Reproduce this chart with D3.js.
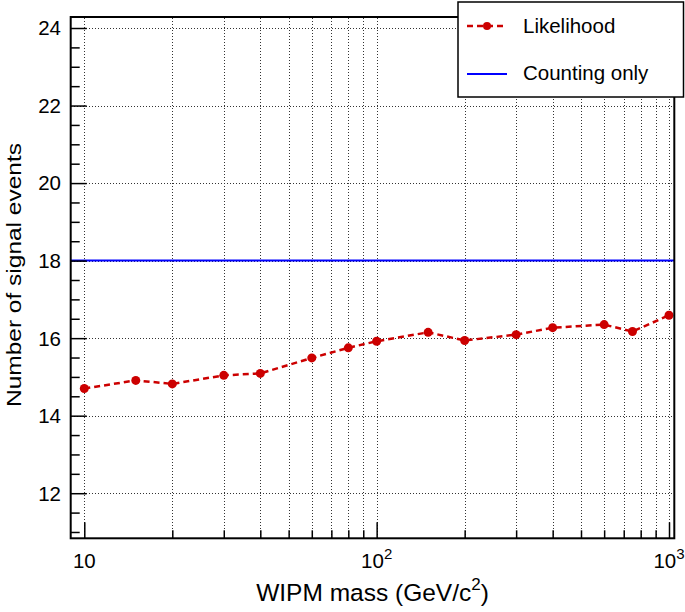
<!DOCTYPE html>
<html>
<head>
<meta charset="utf-8">
<script src="https://cdn.jsdelivr.net/npm/d3@7"></script>
<style>
  html, body { margin: 0; padding: 0; background: #fff; }
  svg { display: block; font-family: "Liberation Sans", Arial, Helvetica, sans-serif; }
</style>
</head>
<body>
<svg id="chart" width="685" height="612"></svg>
<script>
// ---- data ----
const masses = [10, 15, 20, 30, 40, 60, 80, 100, 150, 200, 300, 400, 600, 750, 1000];
const likelihood = [14.70, 14.91, 14.82, 15.04, 15.09, 15.49, 15.75, 15.92, 16.15, 15.94, 16.09, 16.27, 16.35, 16.17, 16.59];
const countingOnly = 18;
const xMajorTicks = [10, 100, 1000];
const xMinorTicks = [20, 30, 40, 50, 60, 70, 80, 90, 200, 300, 400, 500, 600, 700, 800, 900];
const xTickLabels = [["10", ""], ["10", "2"], ["10", "3"]];
const yMajorTicks = [12, 14, 16, 18, 20, 22, 24];
const yMinorTicks = [11, 11.5, 12.5, 13, 13.5, 14.5, 15, 15.5, 16.5, 17, 17.5, 18.5, 19, 19.5, 20.5, 21, 21.5, 22.5, 23, 23.5];
const seriesNames = ["Likelihood", "Counting only"];
const xTitle = "WIPM mass (GeV/c";
const yTitle = "Number of signal events";

// ---- layout ----
const L = 70.7, R = 674.3, T = 17, B = 538.3;
const svg = d3.select("#chart");
const x = d3.scaleLog().domain([8.985, 1042.6]).range([L, R]);
const y = d3.scaleLinear().domain([10.837, 24.284]).range([B, T]);
const red = "#cc0000", blue = "#0000ff";

// grid
const grid = svg.append("g").attr("class", "grid").attr("shape-rendering", "crispEdges");
grid.append("g").attr("transform", `translate(0,${B})`)
  .call(d3.axisBottom(x).tickValues(xMajorTicks.concat(xMinorTicks)).tickSize(-(B - T)).tickFormat(""))
  .call(g => g.select(".domain").remove())
  .call(g => g.selectAll("line").attr("stroke", "#333").attr("stroke-width", 1).attr("stroke-dasharray", "1,2"));
grid.append("g").attr("transform", `translate(${L},0)`)
  .call(d3.axisLeft(y).tickValues(yMajorTicks).tickSize(-(R - L)).tickFormat(""))
  .call(g => g.select(".domain").remove())
  .call(g => g.selectAll("line").attr("stroke", "#333").attr("stroke-width", 1).attr("stroke-dasharray", "1,2"));

// counting-only line
svg.append("line")
  .attr("x1", L).attr("x2", R)
  .attr("y1", y(countingOnly)).attr("y2", y(countingOnly))
  .attr("stroke", blue).attr("stroke-width", 2);

// likelihood series
const pts = masses.map((m, i) => [m, likelihood[i]]);
svg.append("path")
  .datum(pts)
  .attr("fill", "none")
  .attr("stroke", red)
  .attr("stroke-width", 2.5)
  .attr("stroke-dasharray", "6,4")
  .attr("d", d3.line().x(d => x(d[0])).y(d => y(d[1])));
svg.append("g").selectAll("circle").data(pts).join("circle")
  .attr("cx", d => x(d[0])).attr("cy", d => y(d[1]))
  .attr("r", 4.5).attr("fill", red);

// axes ticks (inward)
const ax = svg.append("g");
ax.append("g").attr("transform", `translate(0,${B})`)
  .call(d3.axisBottom(x).tickValues(xMajorTicks).tickSize(-16).tickFormat(""));
ax.append("g").attr("transform", `translate(0,${B})`)
  .call(d3.axisBottom(x).tickValues(xMinorTicks).tickSize(-8).tickFormat(""));
ax.append("g").attr("transform", `translate(${L},0)`)
  .call(d3.axisLeft(y).tickValues(yMajorTicks).tickSize(-16).tickFormat(""));
ax.append("g").attr("transform", `translate(${L},0)`)
  .call(d3.axisLeft(y).tickValues(yMinorTicks).tickSize(-9).tickFormat(""));
ax.selectAll(".domain").remove();
ax.selectAll("line").attr("stroke", "#000").attr("stroke-width", 1.5);

// frame
svg.append("rect").attr("x", L).attr("y", T).attr("width", R - L).attr("height", B - T)
  .attr("fill", "none").attr("stroke", "#000").attr("stroke-width", 2);

// tick labels
const xl = svg.append("g").attr("font-size", 20.5).attr("fill", "#000");
xMajorTicks.forEach((v, i) => {
  const t = xl.append("text").attr("x", x(v)).attr("y", 567.5).attr("text-anchor", "middle");
  t.append("tspan").text(xTickLabels[i][0]);
  if (xTickLabels[i][1]) t.append("tspan").attr("dy", -9).attr("font-size", 15).text(xTickLabels[i][1]);
});
const yl = svg.append("g").attr("font-size", 20.5).attr("fill", "#000");
yMajorTicks.forEach(v => {
  yl.append("text").attr("x", 61).attr("y", y(v)).attr("dy", "0.36em")
    .attr("text-anchor", "end").text(v);
});

// axis titles
const xt = svg.append("text").attr("x", (L + R) / 2).attr("y", 601)
  .attr("text-anchor", "middle").attr("font-size", 24.5);
xt.append("tspan").text(xTitle);
xt.append("tspan").attr("dy", -11).attr("font-size", 17).text("2");
xt.append("tspan").attr("dy", 11).text(")");

svg.append("text")
  .attr("transform", `translate(20.7,275) rotate(-90)`)
  .attr("text-anchor", "middle").attr("font-size", 20)
  .attr("textLength", 264).attr("lengthAdjust", "spacingAndGlyphs")
  .text(yTitle);

// legend
const lg = svg.append("g");
lg.append("rect").attr("x", 458).attr("y", 2).attr("width", 225.5).attr("height", 95)
  .attr("fill", "#fff").attr("stroke", "#000").attr("stroke-width", 1.5);
lg.append("line").attr("x1", 467).attr("x2", 503).attr("y1", 26).attr("y2", 26)
  .attr("stroke", red).attr("stroke-width", 2.5).attr("stroke-dasharray", "6,4");
lg.append("circle").attr("cx", 487).attr("cy", 26).attr("r", 4).attr("fill", red);
lg.append("line").attr("x1", 467).attr("x2", 507).attr("y1", 74).attr("y2", 74)
  .attr("stroke", blue).attr("stroke-width", 2);
lg.append("text").attr("x", 523).attr("y", 32.5).attr("font-size", 20.5).text(seriesNames[0]);
lg.append("text").attr("x", 523).attr("y", 80).attr("font-size", 20.5).text(seriesNames[1]);
</script>
</body>
</html>
